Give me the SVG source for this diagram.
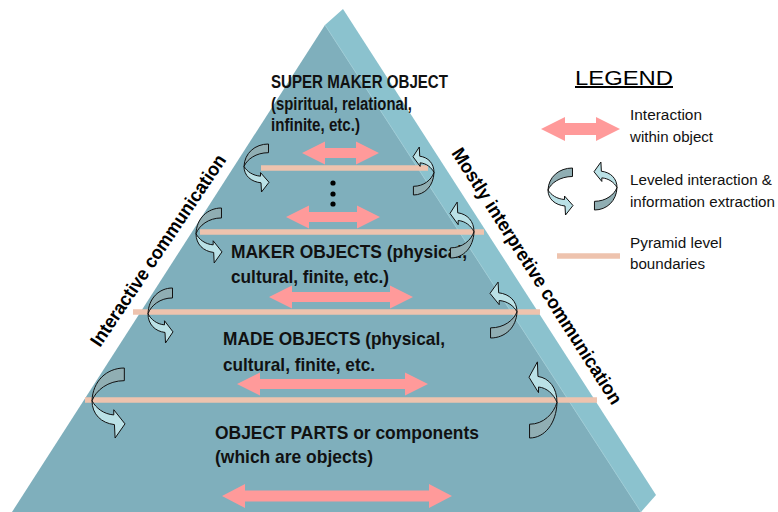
<svg xmlns="http://www.w3.org/2000/svg" xmlns:xlink="http://www.w3.org/1999/xlink" width="778" height="512" viewBox="0 0 778 512">
<style>
.front{fill:#7FAFBC}
.side{fill:#8BC2CE}
.bound{stroke:#EEC3AE;stroke-width:5.5;fill:none}
.darr{fill:#FF9A9A}
.dk{fill:#90AEB3;stroke:#111;stroke-width:1;vector-effect:non-scaling-stroke;stroke-linejoin:round}
.lt{fill:#BAE1E6;stroke:#111;stroke-width:1;vector-effect:non-scaling-stroke;stroke-linejoin:round}
.lvl{font-family:"Liberation Sans",Arial,sans-serif;font-weight:bold;font-size:19px;fill:#111}
.lvl-s{font-size:17.5px}
.side-t{font-family:"Liberation Sans",Arial,sans-serif;font-weight:bold;font-size:19px;fill:#000}
.leg{font-family:"Liberation Sans",Arial,sans-serif;font-size:15.5px;fill:#111}
</style>
<defs>
<g id="ca">
<path class="dk" d="M24.5,0 C11,0 0.5,9 0,22 C3,15 12,8.5 24.5,8.5 Z"/>
<path class="lt" d="M0,22 C0,31 7,37 17,38 L17.5,47 L25,37.5 L16.5,28 L16.5,31.5 C9,31 3,27 0,22 Z"/>
</g>
</defs>

<g id="pyramid">
<polygon class="side" points="325,25 343,9 656,495 641,512"/>
<polygon class="front" points="325,25 12,512 641,512"/>
<line x1="325" y1="25" x2="641" y2="512" stroke="#9CCBD5" stroke-width="1"/>
</g>

<g id="boundaries">
<line class="bound" x1="261" y1="168" x2="428" y2="168"/>
<line class="bound" x1="200" y1="232" x2="484" y2="232"/>
<line class="bound" x1="133" y1="312" x2="540" y2="312"/>
<line class="bound" x1="85" y1="400" x2="597" y2="400"/>
</g>

<g id="level-super">
<text class="lvl lvl-s" x="271" y="88" textLength="177" lengthAdjust="spacingAndGlyphs">SUPER MAKER OBJECT</text>
<text class="lvl lvl-s" x="271" y="110" textLength="141" lengthAdjust="spacingAndGlyphs">(spiritual, relational,</text>
<text class="lvl lvl-s" x="271" y="131" textLength="89" lengthAdjust="spacingAndGlyphs">infinite, etc.)</text>
<circle cx="333" cy="183" r="2.6" fill="#000"/>
<circle cx="333" cy="194" r="2.6" fill="#000"/>
<circle cx="333" cy="204" r="2.6" fill="#000"/>
</g>

<g id="level-maker">
<text class="lvl" x="231" y="258" textLength="236" lengthAdjust="spacingAndGlyphs">MAKER OBJECTS (physical,</text>
<text class="lvl" x="231" y="283" textLength="158" lengthAdjust="spacingAndGlyphs">cultural, finite, etc.)</text>
</g>

<g id="level-made">
<text class="lvl" x="223" y="345" textLength="222" lengthAdjust="spacingAndGlyphs">MADE OBJECTS (physical,</text>
<text class="lvl" x="223" y="371" textLength="152" lengthAdjust="spacingAndGlyphs">cultural, finite, etc.</text>
</g>

<g id="level-parts">
<text class="lvl" x="215" y="439" textLength="264" lengthAdjust="spacingAndGlyphs">OBJECT PARTS or components</text>
<text class="lvl" x="215" y="463" textLength="158" lengthAdjust="spacingAndGlyphs">(which are objects)</text>
</g>

<g id="label-interactive">
<text class="side-t" transform="translate(100,348) rotate(-56)" textLength="227" lengthAdjust="spacingAndGlyphs">Interactive communication</text>
</g>
<g id="label-interpretive">
<text class="side-t" transform="translate(451,153) rotate(57.5)" textLength="300" lengthAdjust="spacingAndGlyphs">Mostly interpretive communication</text>
</g>

<g id="connectors">
<path class="darr" d="M302,153 L325,141.5 L325,148 L356,148 L356,141.5 L379,153 L356,164.5 L356,158 L325,158 L325,164.5 Z"/>
<path class="darr" d="M286,217 L309,205.5 L309,212 L357,212 L357,205.5 L380,217 L357,228.5 L357,222 L309,222 L309,228.5 Z"/>
<path class="darr" d="M269,297 L292,285.5 L292,292 L390,292 L390,285.5 L413,297 L390,308.5 L390,302 L292,302 L292,308.5 Z"/>
<path class="darr" d="M237,384 L260,372.5 L260,379 L405,379 L405,372.5 L428,384 L405,395.5 L405,389 L260,389 L260,395.5 Z"/>
<path class="darr" d="M222,496 L245,484 L245,490.5 L429,490.5 L429,484 L452,496 L429,508 L429,501.5 L245,501.5 L245,508 Z"/>
<use xlink:href="#ca" transform="translate(244,144) scale(1,1.021)"/>
<use xlink:href="#ca" transform="translate(196,208) scale(1.04,1.17)"/>
<use xlink:href="#ca" transform="translate(148,288) scale(1,1.17)"/>
<use xlink:href="#ca" transform="translate(92,368) scale(1.32,1.49)"/>
<use xlink:href="#ca" transform="translate(434,195) rotate(180) scale(0.84,1.021)"/>
<use xlink:href="#ca" transform="translate(474,258) rotate(180) scale(0.96,1.19)"/>
<use xlink:href="#ca" transform="translate(517,338) rotate(180) scale(1.08,1.19)"/>
<use xlink:href="#ca" transform="translate(557,438) rotate(180) scale(1.12,1.62)"/>
</g>

<g id="legend">
<text x="575" y="85" font-family="Liberation Sans,Arial,sans-serif" font-size="20" fill="#000" text-decoration="underline" textLength="98" lengthAdjust="spacingAndGlyphs">LEGEND</text>
<path class="darr" d="M541,129 L565,117 L565,123 L596,123 L596,117 L620,129 L596,141 L596,135 L565,135 L565,141 Z"/>
<text class="leg" x="630" y="120" textLength="72" lengthAdjust="spacingAndGlyphs">Interaction</text>
<text class="leg" x="630" y="142" textLength="83" lengthAdjust="spacingAndGlyphs">within object</text>
<use xlink:href="#ca" transform="translate(548,168)"/>
<use xlink:href="#ca" transform="translate(617,210) rotate(180) scale(0.92,1.02)"/>
<text class="leg" x="630" y="185" textLength="142" lengthAdjust="spacingAndGlyphs">Leveled interaction &amp;</text>
<text class="leg" x="630" y="207" textLength="145" lengthAdjust="spacingAndGlyphs">information extraction</text>
<line class="bound" x1="557" y1="256" x2="620" y2="256"/>
<text class="leg" x="630" y="248" textLength="92" lengthAdjust="spacingAndGlyphs">Pyramid level</text>
<text class="leg" x="630" y="269" textLength="75" lengthAdjust="spacingAndGlyphs">boundaries</text>
</g>
</svg>
